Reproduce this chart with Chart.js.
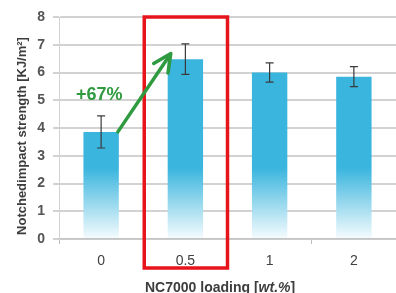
<!DOCTYPE html>
<html>
<head>
<meta charset="utf-8">
<script src="https://cdn.jsdelivr.net/npm/chart.js@4/dist/chart.umd.min.js"></script>
<style>
  html, body { margin: 0; padding: 0; background: #fff; }
  #wrap { width: 396px; height: 293px; position: relative; }
</style>
</head>
<body>
<div id="wrap"><canvas id="c" width="396" height="293"></canvas></div>
<script>
const categories = ['0', '0.5', '1', '2'];
const strength = [3.86, 6.48, 6.0, 5.85];
const errors = [0.58, 0.55, 0.35, 0.36];
const yTicks = [0, 1, 2, 3, 4, 5, 6, 7, 8];
const gainLabel = '+67%';
const yTitle = 'Notchedimpact strength [KJ/m²]';
const xTitle = ['NC7000 loading [', 'wt.%', ']'];

const FONT = "'Liberation Sans', Arial, sans-serif";

function barFill(ctx){
  const chart = ctx.chart;
  const area = chart.chartArea;
  if(!area) return '#3ab5de';
  const g = chart.ctx.createLinearGradient(0, area.bottom, 0, area.top);
  g.addColorStop(0, '#f6fcfe');
  g.addColorStop(0.32, '#3ab5de');
  g.addColorStop(1, '#3ab5de');
  return g;
}

const extras = {
  id: 'extras',
  afterDatasetsDraw(chart){
    const { ctx, chartArea: a, scales: { x, y } } = chart;
    const meta = chart.getDatasetMeta(0);

    // error bars
    ctx.save();
    ctx.strokeStyle = '#3a3a3a';
    ctx.lineWidth = 1.2;
    meta.data.forEach((bar, i) => {
      const hi = y.getPixelForValue(strength[i] + errors[i]);
      const lo = y.getPixelForValue(strength[i] - errors[i]);
      ctx.beginPath();
      ctx.moveTo(bar.x, hi); ctx.lineTo(bar.x, lo);
      ctx.moveTo(bar.x - 4, hi); ctx.lineTo(bar.x + 4, hi);
      ctx.moveTo(bar.x - 4, lo); ctx.lineTo(bar.x + 4, lo);
      ctx.stroke();
    });
    ctx.restore();

    // red box round 0.5 category
    const cw = x.getPixelForValue(1) - x.getPixelForValue(0);
    const bx = x.getPixelForValue(1) - cw / 2;
    ctx.save();
    ctx.strokeStyle = '#e8141b';
    ctx.lineWidth = 3.5;
    ctx.strokeRect(bx + 1, a.top, cw - 1, a.bottom - a.top + 29);
    ctx.restore();

    // green arrow from bar 0 to bar 0.5
    const b0 = meta.data[0];
    const sx = b0.x + b0.width / 2 - 1, sy = y.getPixelForValue(strength[0]);
    const ex = meta.data[1].x - b0.width / 2 + 2, ey = y.getPixelForValue(strength[1]) - 4;
    ctx.save();
    ctx.strokeStyle = '#2f9a3f';
    ctx.fillStyle = '#2f9a3f';
    ctx.lineWidth = 3.5;
    ctx.lineCap = 'round';
    ctx.lineJoin = 'round';
    ctx.beginPath();
    ctx.moveTo(sx, sy); ctx.lineTo(ex, ey);
    ctx.stroke();
    const ang = Math.atan2(ey - sy, ex - sx);
    const hl = 18, hw = 0.5;
    ctx.beginPath();
    ctx.moveTo(ex - hl * Math.cos(ang - hw), ey - hl * Math.sin(ang - hw));
    ctx.lineTo(ex + 2 * Math.cos(ang), ey + 2 * Math.sin(ang));
    ctx.lineTo(ex - hl * Math.cos(ang + hw), ey - hl * Math.sin(ang + hw));
    ctx.stroke();
    ctx.font = 'bold 18px ' + FONT;
    ctx.textAlign = 'left';
    ctx.textBaseline = 'middle';
    ctx.fillText(gainLabel, 76, 95, 53);
    ctx.restore();

    // axis titles
    ctx.save();
    ctx.fillStyle = '#3d3d3d';
    ctx.font = 'bold 13px ' + FONT;
    ctx.translate(22, 136);
    ctx.rotate(-Math.PI / 2);
    ctx.textAlign = 'center';
    ctx.textBaseline = 'middle';
    ctx.fillText(yTitle, 0, 0, 232);
    ctx.restore();

    ctx.save();
    ctx.fillStyle = '#3d3d3d';
    ctx.textBaseline = 'middle';
    ctx.textAlign = 'left';
    let px = 145;
    const py = 288;
    xTitle.forEach((part, i) => {
      ctx.font = (i === 1 ? 'italic ' : '') + 'bold 14px ' + FONT;
      ctx.fillText(part, px, py);
      px += ctx.measureText(part).width;
    });
    ctx.restore();
  }
};

new Chart(document.getElementById('c'), {
  type: 'bar',
  data: {
    labels: categories,
    datasets: [{
      data: strength,
      backgroundColor: barFill,
      borderWidth: 0,
      categoryPercentage: 1,
      barPercentage: 0.42
    }]
  },
  options: {
    responsive: false,
    animation: false,
    events: [],
    layout: { padding: { top: 17, right: 0, left: 0, bottom: 0 } },
    plugins: { legend: { display: false }, tooltip: { enabled: false } },
    scales: {
      x: {
        afterFit: s => { s.height = 54; },
        grid: { drawOnChartArea: false, drawTicks: true, tickLength: 5, color: '#bdbdbd', offset: true },
        border: { color: '#c4c4c4', width: 1.5 },
        ticks: { color: '#404040', padding: 9, font: { family: FONT, size: 14 } }
      },
      y: {
        min: 0, max: 8,
        afterFit: s => { s.width = 59; },
        afterBuildTicks: s => { s.ticks = yTicks.map(v => ({ value: v })); },
        grid: { color: '#d2d2d2', lineWidth: 2, tickLength: 6 },
        border: { color: '#d2d2d2', width: 1 },
        ticks: { color: '#555', padding: 8, font: { family: FONT, size: 14, weight: 'bold' } }
      }
    }
  },
  plugins: [extras]
});
</script>
</body>
</html>
